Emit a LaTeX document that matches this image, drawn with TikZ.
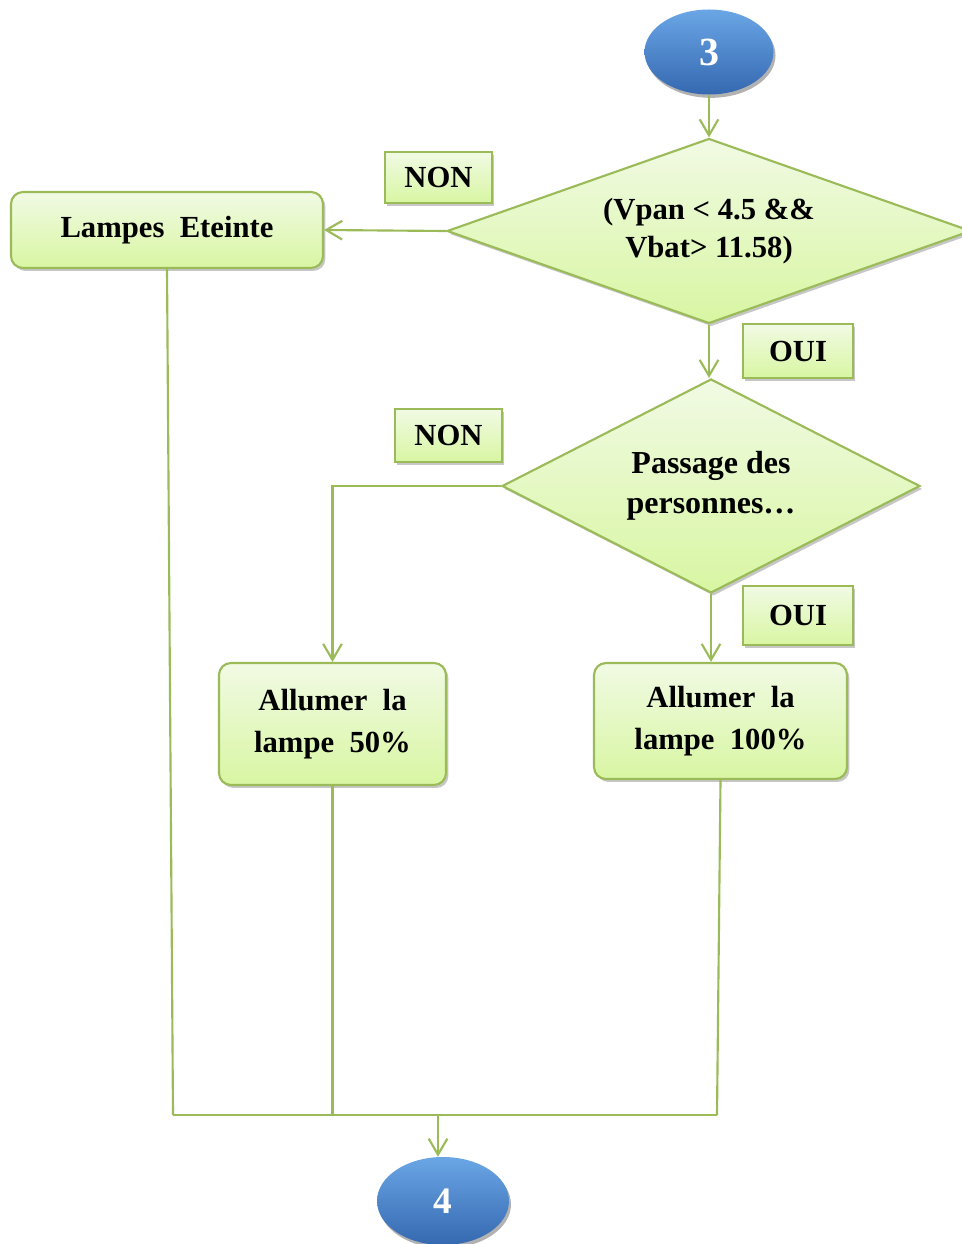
\documentclass[tikz,border=0pt]{standalone}
\usepackage{fontspec}
\setmainfont{Liberation Serif}
\usetikzlibrary{shapes.geometric,arrows.meta,shadows}
\definecolor{lineGreen}{HTML}{9BBB59}
\definecolor{fillTop}{HTML}{F1FAE4}
\definecolor{fillBot}{HTML}{D8F6A2}
\definecolor{blueTop}{HTML}{6AA6E6}
\definecolor{blueMid}{HTML}{3F7BC6}
\definecolor{blueBot}{HTML}{3568B0}
\tikzset{
  softshadow/.style={drop shadow={shadow xshift=1.8pt,shadow yshift=-2.2pt,opacity=0.22,fill=black}},
  procbox/.style={draw=lineGreen,line width=1.6pt,rounded corners=9pt,top color=fillTop,bottom color=fillBot,
     softshadow,align=center,inner sep=0pt,font=\bfseries\fontsize{23}{31}\selectfont},
  tagbox/.style={draw=lineGreen,line width=1.6pt,top color=fillTop,bottom color=fillBot,
     softshadow,align=center,inner sep=0pt,font=\bfseries\fontsize{23}{28}\selectfont},
  decision/.style={diamond,draw=lineGreen,line width=1.6pt,top color=fillTop,bottom color=fillBot,
     softshadow,align=center,inner sep=0pt},
  terminal/.style={ellipse,draw=none,top color=blueTop,middle color=blueMid,bottom color=blueBot,
     drop shadow={shadow xshift=1.5pt,shadow yshift=-2.5pt,opacity=0.3,fill=black},
     inner sep=0pt,text=white,font=\bfseries},
  conn/.style={draw=lineGreen,line width=1.6pt},
  arrowconn/.style={conn,-{Straight Barb[length=12pt,width=14pt,line width=1.6pt]}}
}
\begin{document}
\begin{tikzpicture}[x=0.75pt,y=-0.75pt]
\useasboundingbox (0,0) rectangle (961,1244);

% terminals
\node[terminal,minimum width=129*0.75pt,minimum height=85*0.75pt,font=\bfseries\fontsize{30}{30}\selectfont] (e3) at (709,52) {3};
\node[terminal,minimum width=132*0.75pt,minimum height=88*0.75pt,font=\bfseries\fontsize{28}{28}\selectfont] (e4) at (443,1201) {4};

% decisions
\node[decision,aspect=2.83,minimum width=524*0.75pt,minimum height=185*0.75pt,font=\bfseries\fontsize{23}{28.5}\selectfont] (d1) at (709,231) {(Vpan < 4.5 \&\&\\Vbat> 11.58)};
\node[decision,aspect=1.95,minimum width=418*0.75pt,minimum height=214*0.75pt,font=\bfseries\fontsize{24}{30}\selectfont] (d2) at (711,486) {Passage des\\personnes\ldots};

% process boxes
\node[procbox,minimum width=312*0.75pt,minimum height=76*0.75pt] (lampes) at (167,230) {Lampes\ \ Eteinte};
\node[procbox,minimum width=227*0.75pt,minimum height=122*0.75pt] (b50) at (332.5,724) {Allumer\ \ la\\lampe\ \ 50\%};
\node[procbox,minimum width=253*0.75pt,minimum height=116*0.75pt] (b100) at (720.5,721) {Allumer\ \ la\\lampe\ \ 100\%};

% labels
\node[tagbox,minimum width=107*0.75pt,minimum height=51*0.75pt] (non1) at (438.5,177.5) {NON};
\node[tagbox,minimum width=110*0.75pt,minimum height=54*0.75pt] (oui1) at (798,351) {OUI};
\node[tagbox,minimum width=107*0.75pt,minimum height=53*0.75pt] (non2) at (448.5,435.5) {NON};
\node[tagbox,minimum width=110*0.75pt,minimum height=59*0.75pt] (oui2) at (798,615.5) {OUI};

% junction coordinates
\coordinate (jL) at (173,1115);
\coordinate (jR) at (717,1115);
\coordinate (jM) at (438,1115);

% connectors
\draw[arrowconn] (e3.south) -- (d1.north);
\draw[arrowconn] (d1.west) -- (lampes.east);
\draw[arrowconn] (d1.south) -- (d1.south |- d2.north);
\draw[arrowconn] (d2.west) -| (b50.north);
\draw[arrowconn] (d2.south) -- (d2.south |- b100.north);
\draw[conn] (lampes.south) -- (jL);
\draw[conn] (b50.south) -- (b50.south |- jL);
\draw[conn] (b100.south) -- (jR);
\draw[conn] (jL) -- (jR);
\draw[arrowconn] (jM) -- (jM |- e4.north);
\end{tikzpicture}
\end{document}
